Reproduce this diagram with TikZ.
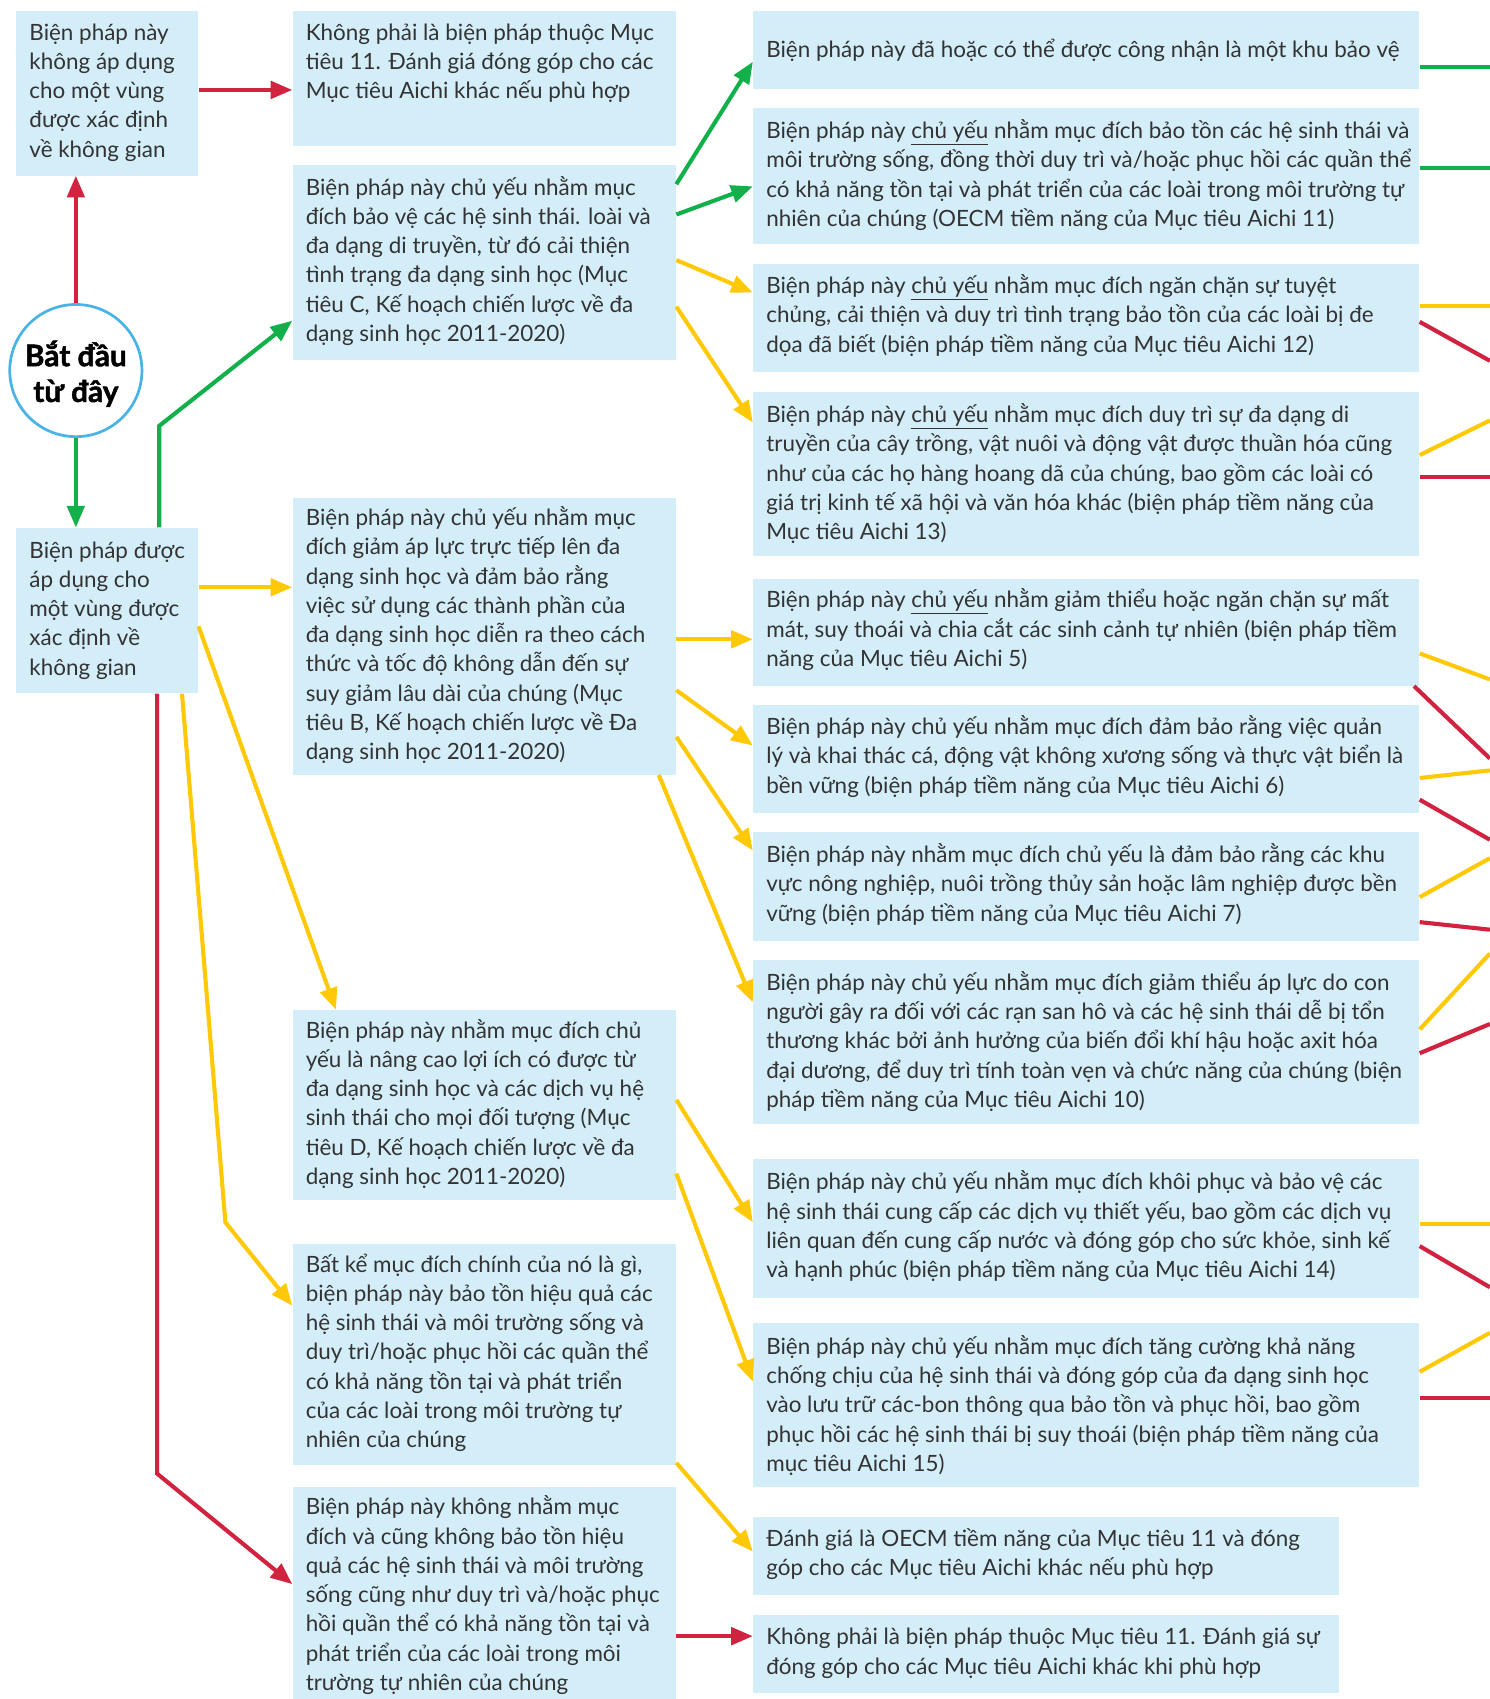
\documentclass[tikz,border=0pt]{standalone}
\usepackage{fontspec}
\setmainfont{Lato}
\newfontfamily\heavyfont{Lato}[BoldFeatures={FakeBold=1.5}]
\usetikzlibrary{arrows.meta,fit,calc}
\definecolor{boxc}{HTML}{D3EDF9}
\definecolor{txtc}{HTML}{333333}
\definecolor{grn}{HTML}{12B04B}
\definecolor{rd}{HTML}{D1233F}
\definecolor{ylw}{HTML}{FFC907}
\definecolor{circc}{HTML}{4AB3E6}
\newcommand{\bt}[1]{\parbox[t]{700pt}{\fontsize{20.7pt}{27pt}\selectfont\lineskiplimit=-100pt\raggedright #1}}
\begin{document}
\begin{tikzpicture}[x=1pt,y=-1pt,
  box/.style={fill=boxc, draw=none, inner sep=0pt},
  txt/.style={inner sep=0pt, anchor=base west, text=txtc},
  con/.style={line width=3.8pt, line join=miter},
  arr/.style={con, -{Triangle[length=20pt,width=16pt]}},
  cg/.style={draw=grn}, cr/.style={draw=rd}, cy/.style={draw=ylw}]
\useasboundingbox (0,0) rectangle (1375,1568);
% left column
\node[box, fit={(15,10)(183,162)}] (A) {};
\node[txt] (At) at (27,37) {\bt{Biện pháp này\\không áp dụng\\cho một vùng\\được xác định\\về không gian}};
\node[circle, draw=circc, line width=2.5pt, fill=white, minimum size=122pt, inner sep=0pt] (S) at (70,342) {};
\node[align=center, font=\fontsize{27.5pt}{33pt}\selectfont\heavyfont\bfseries, text=black] (St) at (70,345) {Bắt đầu\\từ đây};
\node[box, fit={(15,487)(183,640)}] (D) {};
\node[txt] (Dt) at (27,515) {\bt{Biện pháp được\\áp dụng cho\\một vùng được\\xác định về\\không gian}};
% middle column
\node[box, fit={(270,10)(624,135)}] (B) {};
\node[txt] (Bt) at (282,37) {\bt{Không phải là biện pháp thuộc Mục\\tiêu 11. Đánh giá đóng góp cho các\\Mục tiêu Aichi khác nếu phù hợp}};
\node[box, fit={(270,152)(624,332)}] (C) {};
\node[txt] (Ct) at (282,180) {\bt{Biện pháp này chủ yếu nhằm mục\\đích bảo vệ các hệ sinh thái. loài và\\đa dạng di truyền, từ đó cải thiện\\tình trạng đa dạng sinh học (Mục\\tiêu C, Kế hoạch chiến lược về đa\\dạng sinh học 2011-2020)}};
\node[box, fit={(270,460)(624,715)}] (E) {};
\node[txt] (Et) at (282,485) {\bt{Biện pháp này chủ yếu nhằm mục\\đích giảm áp lực trực tiếp lên đa\\dạng sinh học và đảm bảo rằng\\việc sử dụng các thành phần của\\đa dạng sinh học diễn ra theo cách\\thức và tốc độ không dẫn đến sự\\suy giảm lâu dài của chúng (Mục\\tiêu B, Kế hoạch chiến lược về Đa\\dạng sinh học 2011-2020)}};
\node[box, fit={(270,932)(624,1107)}] (F) {};
\node[txt] (Ft) at (282,958) {\bt{Biện pháp này nhằm mục đích chủ\\yếu là nâng cao lợi ích có được từ\\đa dạng sinh học và các dịch vụ hệ\\sinh thái cho mọi đối tượng (Mục\\tiêu D, Kế hoạch chiến lược về đa\\dạng sinh học 2011-2020)}};
\node[box, fit={(270,1148)(624,1352)}] (G) {};
\node[txt] (Gt) at (282,1174) {\bt{Bất kể mục đích chính của nó là gì,\\biện pháp này bảo tồn hiệu quả các\\hệ sinh thái và môi trường sống và\\duy trì/hoặc phục hồi các quần thể\\có khả năng tồn tại và phát triển\\của các loài trong môi trường tự\\nhiên của chúng}};
\node[box, fit={(270,1372)(624,1568)}] (H) {};
\node[txt] (Ht) at (282,1398) {\bt{Biện pháp này không nhằm mục\\đích và cũng không bảo tồn hiệu\\quả các hệ sinh thái và môi trường\\sống cũng như duy trì và/hoặc phục\\hồi quần thể có khả năng tồn tại và\\phát triển của các loài trong môi\\trường tự nhiên của chúng}};
% right column
\node[box, fit={(695,10)(1310,82)}] (R1) {};
\node[txt] (R1t) at (707,53) {\bt{Biện pháp này đã hoặc có thể được công nhận là một khu bảo vệ}};
\node[box, fit={(695,100)(1310,225)}] (R2) {};
\node[txt] (R2t) at (707,128) {\bt{Biện pháp này \underline{chủ yếu} nhằm mục đích bảo tồn các hệ sinh thái và\\môi trường sống, đồng thời duy trì và/hoặc phục hồi các quần thể\\có khả năng tồn tại và phát triển của các loài trong môi trường tự\\nhiên của chúng (OECM tiềm năng của Mục tiêu Aichi 11)}};
\node[box, fit={(695,244)(1310,343)}] (R3) {};
\node[txt] (R3t) at (707,271) {\bt{Biện pháp này \underline{chủ yếu} nhằm mục đích ngăn chặn sự tuyệt\\chủng, cải thiện và duy trì tình trạng bảo tồn của các loài bị đe\\dọa đã biết (biện pháp tiềm năng của Mục tiêu Aichi 12)}};
\node[box, fit={(695,362)(1310,513)}] (R4) {};
\node[txt] (R4t) at (707,390) {\bt{Biện pháp này \underline{chủ yếu} nhằm mục đích duy trì sự đa dạng di\\truyền của cây trồng, vật nuôi và động vật được thuần hóa cũng\\như của các họ hàng hoang dã của chúng, bao gồm các loài có\\giá trị kinh tế xã hội và văn hóa khác (biện pháp tiềm năng của\\Mục tiêu Aichi 13)}};
\node[box, fit={(695,534)(1310,633)}] (R5) {};
\node[txt] (R5t) at (707,561) {\bt{Biện pháp này \underline{chủ yếu} nhằm giảm thiểu hoặc ngăn chặn sự mất\\mát, suy thoái và chia cắt các sinh cảnh tự nhiên (biện pháp tiềm\\năng của Mục tiêu Aichi 5)}};
\node[box, fit={(695,651)(1310,750)}] (R6) {};
\node[txt] (R6t) at (707,678) {\bt{Biện pháp này chủ yếu nhằm mục đích đảm bảo rằng việc quản\\lý và khai thác cá, động vật không xương sống và thực vật biển là\\bền vững (biện pháp tiềm năng của Mục tiêu Aichi 6)}};
\node[box, fit={(695,768)(1310,868)}] (R7) {};
\node[txt] (R7t) at (707,796) {\bt{Biện pháp này nhằm mục đích chủ yếu là đảm bảo rằng các khu\\vực nông nghiệp, nuôi trồng thủy sản hoặc lâm nghiệp được bền\\vững (biện pháp tiềm năng của Mục tiêu Aichi 7)}};
\node[box, fit={(695,886)(1310,1037)}] (R8) {};
\node[txt] (R8t) at (707,914) {\bt{Biện pháp này chủ yếu nhằm mục đích giảm thiểu áp lực do con\\người gây ra đối với các rạn san hô và các hệ sinh thái dễ bị tổn\\thương khác bởi ảnh hưởng của biến đổi khí hậu hoặc axit hóa\\đại dương, để duy trì tính toàn vẹn và chức năng của chúng (biện\\pháp tiềm năng của Mục tiêu Aichi 10)}};
\node[box, fit={(695,1070)(1310,1198)}] (R9) {};
\node[txt] (R9t) at (707,1098) {\bt{Biện pháp này chủ yếu nhằm mục đích khôi phục và bảo vệ các\\hệ sinh thái cung cấp các dịch vụ thiết yếu, bao gồm các dịch vụ\\liên quan đến cung cấp nước và đóng góp cho sức khỏe, sinh kế\\và hạnh phúc (biện pháp tiềm năng của Mục tiêu Aichi 14)}};
\node[box, fit={(695,1221)(1310,1372)}] (R10) {};
\node[txt] (R10t) at (707,1250) {\bt{Biện pháp này chủ yếu nhằm mục đích tăng cường khả năng\\chống chịu của hệ sinh thái và đóng góp của đa dạng sinh học\\vào lưu trữ các-bon thông qua bảo tồn và phục hồi, bao gồm\\phục hồi các hệ sinh thái bị suy thoái (biện pháp tiềm năng của\\mục tiêu Aichi 15)}};
\node[box, fit={(695,1400)(1236,1472)}] (R11) {};
\node[txt] (R11t) at (707,1427) {\bt{Đánh giá là OECM tiềm năng của Mục tiêu 11 và đóng\\góp cho các Mục tiêu Aichi khác nếu phù hợp}};
\node[box, fit={(695,1490)(1236,1562)}] (R12) {};
\node[txt] (R12t) at (707,1518) {\bt{Không phải là biện pháp thuộc Mục tiêu 11. Đánh giá sự\\đóng góp cho các Mục tiêu Aichi khác khi phù hợp}};
% bends
\coordinate (k1) at (147,393);
\coordinate (k2) at (208,1128);
\coordinate (k3) at (145,1360);
% left connectors
\draw[arr,cr] (S.north) -- (A.south -| S.north);
\draw[arr,cg] (S.south) -- (D.north -| S.south);
\draw[arr,cr] (A.east |- 0,83) -- (B.west |- 0,83);
\draw[arr,cg] (D.north -| k1) -- (k1) -- (C.west |- 0,296);
\draw[arr,cy] (D.east |- 0,542) -- (E.west |- 0,542);
\draw[arr,cy] (D.east |- 0,578) -- (F.north -| 310,0);
\draw[arr,cy] (D.south -| 168,0) -- (k2) -- (G.west |- 0,1205);
\draw[arr,cr] (D.south -| k3) -- (k3) -- (H.west |- 0,1462);
% middle to right
\draw[arr,cg] (C.east |- 0,170) -- (R1.west |- 0,57);
\draw[arr,cg] (C.east |- 0,198) -- (R2.west |- 0,172);
\draw[arr,cy] (C.east |- 0,240) -- (R3.west |- 0,270);
\draw[arr,cy] (C.east |- 0,283) -- (R4.west |- 0,390);
\draw[arr,cy] (E.east |- 0,590) -- (R5.west |- 0,590);
\draw[arr,cy] (E.east |- 0,637) -- (R6.west |- 0,688);
\draw[arr,cy] (E.east |- 0,680) -- (R7.west |- 0,785);
\draw[arr,cy] (E.south -| 608,0) -- (R8.west |- 0,925);
\draw[arr,cy] (F.east |- 0,1015) -- (R9.west |- 0,1128);
\draw[arr,cy] (F.east |- 0,1083) -- (R10.west |- 0,1275);
\draw[arr,cy] (G.east |- 0,1350) -- (R11.west |- 0,1432);
\draw[arr,cr] (H.east |- 0,1510) -- (R12.west |- 0,1510);
% free ends on the right
\coordinate (o1) at (1375,62);
\coordinate (o2) at (1375,155);
\coordinate (o3y) at (1375,282);
\coordinate (o3r) at (1375,333);
\coordinate (o4y) at (1375,388);
\coordinate (o4r) at (1375,440);
\coordinate (o5y) at (1375,627);
\coordinate (o5r) at (1375,700);
\coordinate (o6y) at (1375,711);
\coordinate (o6r) at (1375,775);
\coordinate (o7y) at (1375,792);
\coordinate (o7r) at (1375,858);
\coordinate (o8y) at (1375,880);
\coordinate (o8r) at (1375,945);
\coordinate (o9y) at (1375,1130);
\coordinate (o9r) at (1375,1188);
\coordinate (o10y) at (1375,1230);
\coordinate (o10r) at (1375,1290);
\draw[con,cg] (R1.east |- o1) -- (o1);
\draw[con,cg] (R2.east |- o2) -- (o2);
\draw[con,cy] (R3.east |- o3y) -- (o3y);
\draw[con,cr] (R3.east |- 0,297) -- (o3r);
\draw[con,cy] (R4.east |- 0,420) -- (o4y);
\draw[con,cr] (R4.east |- o4r) -- (o4r);
\draw[con,cy] (R5.east |- 0,603) -- (o5y);
\draw[con,cr] (R5.south -| 1305,0) -- (o5r);
\draw[con,cy] (R6.east |- 0,718) -- (o6y);
\draw[con,cr] (R6.east |- 0,738) -- (o6r);
\draw[con,cy] (R7.east |- 0,828) -- (o7y);
\draw[con,cr] (R7.east |- 0,851) -- (o7r);
\draw[con,cy] (R8.east |- 0,950) -- (o8y);
\draw[con,cr] (R8.east |- 0,972) -- (o8r);
\draw[con,cy] (R9.east |- o9y) -- (o9y);
\draw[con,cr] (R9.east |- 0,1150) -- (o9r);
\draw[con,cy] (R10.east |- 0,1266) -- (o10y);
\draw[con,cr] (R10.east |- o10r) -- (o10r);
\end{tikzpicture}
\end{document}
